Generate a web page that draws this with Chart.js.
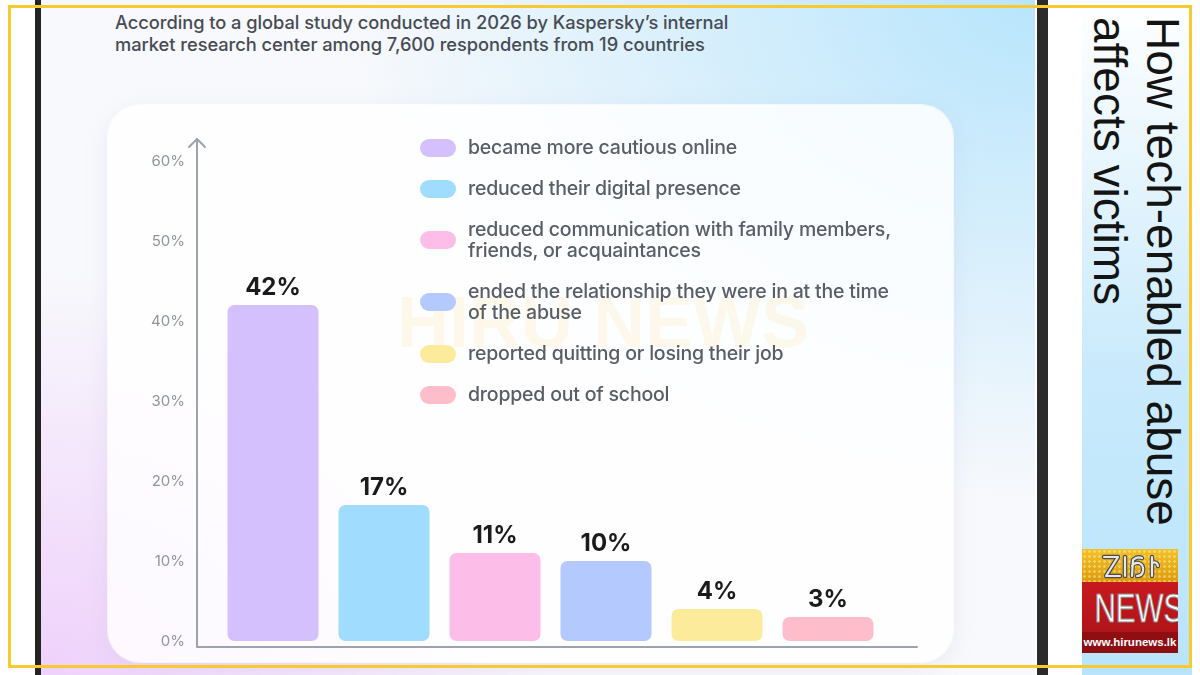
<!DOCTYPE html>
<html>
<head>
<meta charset="utf-8">
<script src="https://cdn.jsdelivr.net/npm/chart.js@4.4.1/dist/chart.umd.min.js"></script>
<style>
  html, body { margin: 0; padding: 0; width: 1200px; height: 675px; overflow: hidden; background: #fff; }
  #root { position: relative; width: 1200px; height: 675px; overflow: hidden; font-family: Inter, "Noto Sans", sans-serif; }
  .abs { position: absolute; }
  #leftbar  { left: 35px; top: 0; width: 6px; height: 675px; background: #232323; }
  #panel    { left: 41px; top: 0; width: 994px; height: 675px;
              background:
                radial-gradient(ellipse 70% 75% at 100% 0%, #b8e5fc 0%, rgba(184,229,252,0.55) 45%, rgba(184,229,252,0) 100%),
                radial-gradient(ellipse 55% 60% at 0% 100%, #efd1fb 0%, rgba(239,209,251,0.5) 50%, rgba(239,209,251,0) 100%),
                #f8f9fc; }
  #rightbar { left: 1037px; top: 0; width: 11px; height: 675px; background: #2b2b2b; }
  #titlebg  { left: 1082px; top: 0; width: 110px; height: 675px;
              background: linear-gradient(to bottom, #ffffff 0%, #e6f5fd 25%, #c9eafc 55%, #b9e4fb 100%); }
  #subtitle { left: 115px; top: 11px; font-size: 18.3px; font-weight: 500; line-height: 22px; color: #474c54; letter-spacing: -0.05px; }
  #card     { left: 108px; top: 105px; width: 845px; height: 557px; border-radius: 32px;
              background: rgba(255,255,255,0.84);
              box-shadow: 0 0 0 1px rgba(255,255,255,0.7), 0 6px 24px rgba(150,150,190,0.14); }
  #watermark { left: 397px; top: 286px; font: bold 72px "Liberation Sans", Arial, sans-serif; line-height: 72px;
               color: rgba(255,196,60,0.10); white-space: nowrap; }
  #chart    { left: 108px; top: 105px; }
  #legend   { left: 420px; top: 137px; display: flex; flex-direction: column; gap: 20px; }
  .item     { display: flex; align-items: center; }
  .pill     { width: 36px; height: 18px; border-radius: 9px; margin-right: 12px; flex: none; }
  .txt      { font-size: 19.5px; font-weight: 500; line-height: 21px; color: #585d66; white-space: pre-line; letter-spacing: -0.2px; }
  #title    { left: 1083px; top: 17px; width: 106px; height: 560px; writing-mode: vertical-rl;
              font: 46px "Liberation Sans", Arial, sans-serif; line-height: 53px; color: #141414; }
  #logo     { left: 1082px; top: 549px; width: 96px; height: 104px; overflow: hidden; }
  #logo .gold { height: 33px; background:
                radial-gradient(circle, rgba(255,235,140,0.55) 1px, transparent 1.6px) 0 0/5px 5px,
                linear-gradient(to bottom, #f2c12c, #dc9a0e); }
  #logo .red  { height: 71px; background: linear-gradient(to bottom, #c8191f, #a61217); position: relative; }
  #logo .news { position: absolute; left: 0; top: 6px; width: 96px; text-align: center;
                font: 40px "Liberation Sans", Arial, sans-serif; line-height: 40px; color: #fff;
                -webkit-text-stroke: 1px #8a8a8a; transform: scaleX(0.74); transform-origin: center; }
  #logo .url  { position: absolute; left: 0; bottom: 0; width: 96px; height: 21px; background: #8e0e12;
                font: bold 11.5px "Liberation Sans", Arial, sans-serif; line-height: 21px; color: #fff; text-align: center; }
  #frame    { left: 8px; top: 5px; width: 1178px; height: 657px; border: 3px solid #f9c930; }
</style>
</head>
<body>
<div id="root">
  <div class="abs" id="leftbar"></div>
  <div class="abs" id="panel"></div>
  <div class="abs" id="rightbar"></div>
  <div class="abs" id="titlebg"></div>
  <div class="abs" id="subtitle">According to a global study conducted in 2026 by Kaspersky’s internal<br>market research center among 7,600 respondents from 19 countries</div>
  <div class="abs" id="card"></div>
  <div class="abs" id="watermark">HIRU NEWS</div>
  <canvas class="abs" id="chart" width="845" height="557"></canvas>
  <div class="abs" id="legend"></div>
  <div class="abs" id="title">How tech-enabled abuse affects victims</div>
  <div class="abs" id="logo">
    <div class="gold">
      <svg width="96" height="33" viewBox="0 0 96 33">
        <g fill="none" stroke="#4a4a4a" stroke-width="4.5" stroke-linejoin="round" stroke-linecap="round">
          <path d="M22 8 H36 L24 27 H38"/><path d="M43 8 V27"/><path d="M60 9 Q55 7 51 11 L50 27 M50 17 Q52 13 57 14 Q62 16 61 22 Q60 27 55 27"/><path d="M70 8 V27 M70 14 Q75 12 76 17"/>
        </g>
        <g fill="none" stroke="#e8e8e8" stroke-width="2.2" stroke-linejoin="round" stroke-linecap="round">
          <path d="M22 8 H36 L24 27 H38"/><path d="M43 8 V27"/><path d="M60 9 Q55 7 51 11 L50 27 M50 17 Q52 13 57 14 Q62 16 61 22 Q60 27 55 27"/><path d="M70 8 V27 M70 14 Q75 12 76 17"/>
        </g>
      </svg>
    </div>
    <div class="red"><div class="news">NEWS</div><div class="url">www.hirunews.lk</div></div>
  </div>
  <div class="abs" id="frame"></div>
</div>

<script>
// ----- Data -----
const categories = [
  "became more cautious online",
  "reduced their digital presence",
  "reduced communication with family members,\nfriends, or acquaintances",
  "ended the relationship they were in at the time\nof the abuse",
  "reported quitting or losing their job",
  "dropped out of school",
];
const shares    = [42, 17, 11, 10, 4, 3];
const barColors = ["#d4c0fd", "#9fdcfd", "#fdbde9", "#b4c9fd", "#fdeb9c", "#fdbdcb"];
const yTicks    = [0, 10, 20, 30, 40, 50, 60];

// ----- Legend (HTML, one row per category) -----
const legendEl = document.getElementById("legend");
categories.forEach((c, i) => {
  const row = document.createElement("div");
  row.className = "item";
  row.innerHTML = `<span class="pill" style="background:${barColors[i]}"></span><span class="txt"></span>`;
  row.querySelector(".txt").textContent = c;
  legendEl.appendChild(row);
});

// ----- Plugins -----
const axesPlugin = {
  id: "axes",
  afterDatasetsDraw(chart) {
    const { ctx, chartArea: a } = chart;
    const x0 = a.left - 20.5, y0 = a.bottom, x1 = a.right + 33.5;
    ctx.save();
    ctx.strokeStyle = "#9da3ad";
    ctx.lineWidth = 2;
    ctx.lineCap = "round";
    ctx.lineJoin = "round";
    ctx.beginPath();
    ctx.moveTo(x0, a.top + 1); ctx.lineTo(x0, y0); ctx.lineTo(x1, y0);
    ctx.stroke();
    ctx.beginPath();
    ctx.moveTo(x0 - 8, a.top + 9); ctx.lineTo(x0, a.top + 1); ctx.lineTo(x0 + 8, a.top + 9);
    ctx.stroke();
    ctx.restore();
  }
};

const valueLabels = {
  id: "valueLabels",
  afterDatasetsDraw(chart) {
    const { ctx } = chart;
    const meta = chart.getDatasetMeta(0);
    ctx.save();
    ctx.font = "700 24px Inter, 'Noto Sans', sans-serif";
    ctx.fillStyle = "#1b1b1d";
    ctx.textAlign = "center";
    ctx.textBaseline = "alphabetic";
    meta.data.forEach((bar, i) => ctx.fillText(shares[i] + "%", bar.x, bar.y - 10));
    ctx.restore();
  }
};

// ----- Chart -----
new Chart(document.getElementById("chart"), {
  type: "bar",
  data: {
    labels: categories,
    datasets: [{
      data: shares,
      backgroundColor: barColors,
      borderRadius: 7,
      borderSkipped: false,
      categoryPercentage: 1,
      barPercentage: 0.82,
    }],
  },
  options: {
    responsive: false,
    animation: false,
    devicePixelRatio: 1,
    layout: { padding: { left: 0, top: 33, right: 69.5, bottom: 15 } },
    plugins: { legend: { display: false }, tooltip: { enabled: false } },
    scales: {
      x: { display: false },
      y: {
        min: -0.75,
        max: 62.875,
        grid: { display: false, drawTicks: false },
        border: { display: false },
        afterBuildTicks: (s) => { s.ticks = yTicks.map(v => ({ value: v })); },
        afterFit: (s) => { s.width = 109.5; s.paddingTop = 0; s.paddingBottom = 0; },
        ticks: {
          padding: 32.5,
          color: "#8f949d",
          font: { family: "Inter, 'Noto Sans', sans-serif", size: 15 },
          callback: (v) => v + "%",
        },
      },
    },
  },
  plugins: [axesPlugin, valueLabels],
});
</script>
</body>
</html>
